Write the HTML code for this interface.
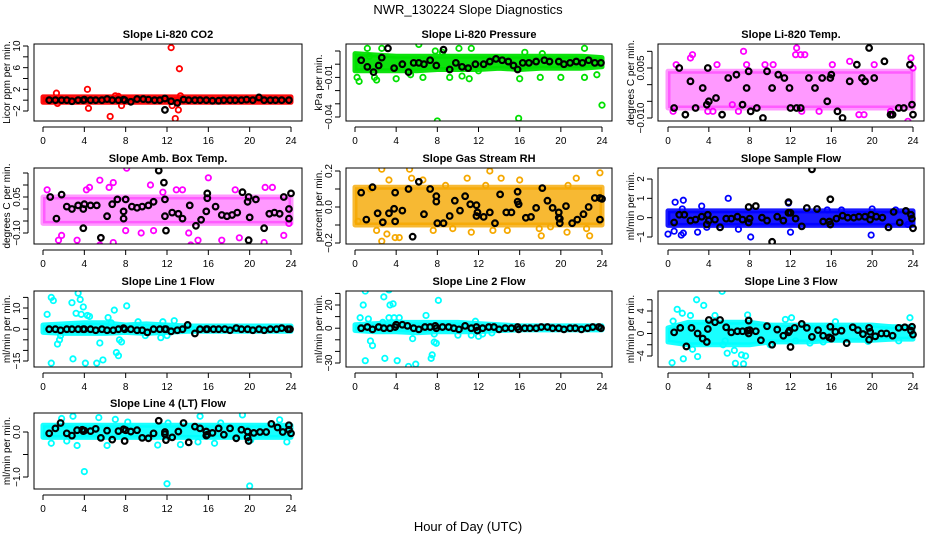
<!DOCTYPE html>
<html><head><meta charset="utf-8"><style>
html,body{margin:0;padding:0;background:#fff;}
svg{display:block;font-family:"Liberation Sans",Arial,sans-serif;}
</style></head><body>
<svg id="chart" width="936" height="540" viewBox="0 0 936 540">
<text x="468" y="14" font-size="13" text-anchor="middle">NWR_130224  Slope Diagnostics</text>
<text x="468" y="531" font-size="13" text-anchor="middle">Hour of Day (UTC)</text>
</svg>
<script>
// ---------- data (hour of day, slope value) ----------
const xTicks = [0,4,8,12,16,20,24];
const bandHours = [0,2,4,6,8,10,12,14,16,18,20,22,24];

const co2BandLo = [-0.4,-0.4,-0.4,-0.4,-0.4,-0.4,-0.4,-0.4,-0.4,-0.4,-0.4,-0.4,-0.4];
const co2BandHi = [0.6,0.6,0.6,0.6,0.6,0.6,0.6,0.6,0.6,0.6,0.6,0.6,0.6];
const co2Color = [[1.3,1.3],[1.4,-0.6],[4.3,2],[4.4,-1.5],[6.5,-3],[7,0.8],[7.6,-1],[12.4,9.7],[13.2,5.8],[12.8,-3.4],[13.1,-1.8],[12.5,-1],[13.3,0.8],[7.3,0.7]];
const co2Black = [[0.6,0],[1.2,0],[1.8,0],[2.3,0],[2.8,-0.2],[3.4,0],[3.9,0],[4,0.1],[4.6,0],[5.1,0],[5.7,0],[6.2,0.2],[6.7,0],[7.3,0],[7.8,0.1],[7.9,0],[8.5,-0.3],[9.1,0.2],[9.7,0.2],[10.2,0.1],[10.8,0],[11.3,0],[11.8,0.3],[11.8,-1.8],[12.4,-0.2],[13,-0.5],[13.6,0.1],[14.1,0],[14.7,0],[15.2,0],[15.8,0],[16.4,-0.1],[17,-0.1],[17.5,0],[18.1,0],[18.6,0],[19.2,0],[19.7,0.1],[20.3,0],[20.9,0.5],[21.4,0],[22,0],[22.5,0],[23.1,0],[23.8,0]];

const presBandLo = [-0.005,-0.005,-0.005,-0.005,-0.004,-0.004,-0.004,-0.003,-0.004,-0.003,-0.003,-0.003,-0.002];
const presBandHi = [0.008,0.007,0.006,0.006,0.006,0.006,0.006,0.006,0.006,0.006,0.006,0.006,0.005];
const presColor = [[0.2,-0.01],[0.4,-0.013],[1.2,0.012],[1.4,0.006],[1.9,-0.01],[2.1,-0.012],[2.6,0.012],[4,-0.011],[5.4,-0.008],[6.2,0.015],[6.6,-0.01],[7.8,0.01],[8,-0.043],[8.5,0.009],[9.2,-0.01],[10.1,0.012],[10.4,-0.009],[11.1,-0.011],[11.3,0.012],[12,-0.005],[15.9,-0.041],[16,-0.011],[16.5,0.009],[18,-0.01],[18.2,0.008],[20,-0.01],[22.3,0.012],[22.3,-0.01],[23.5,-0.008],[24,-0.031]];
const presBlack = [[0.6,0.003],[1.2,-0.002],[1.8,-0.006],[2.3,-0.001],[2.6,0.005],[3.2,0.012],[3.8,-0.003],[4.6,0],[5.2,-0.006],[5.7,0.001],[6.2,0.001],[6.7,0],[7.3,0.003],[7.9,-0.001],[8.6,0.011],[9.2,-0.004],[9.8,0.001],[10.4,-0.002],[11,-0.003],[11.7,0],[12.5,0],[13.1,0.002],[13.7,0.004],[14.3,0.003],[14.9,0.002],[15.4,-0.001],[15.8,-0.004],[16.3,0.001],[16.9,0.001],[17.6,0.002],[18.4,0.003],[18.9,0.002],[19.8,0.002],[20.3,0],[20.9,0.001],[21.5,0.002],[22.1,0.001],[22.7,0.003],[23.3,0.001],[23.9,0.001]];

const ltBandLo = [-0.007,-0.007,-0.007,-0.007,-0.007,-0.007,-0.007,-0.007,-0.007,-0.007,-0.007,-0.007,-0.007];
const ltBandHi = [0.004,0.004,0.004,0.004,0.004,0.004,0.004,0.004,0.004,0.004,0.004,0.004,0.004];
const ltColor = [[0.5,-0.008],[0.8,0.006],[2.2,0.008],[2.4,0.009],[3.9,-0.008],[4.4,-0.008],[4.8,0.006],[6.3,-0.006],[6.9,-0.008],[7.4,0.01],[7.7,0.006],[9.5,0.006],[10.3,0.006],[12.5,0.009],[12.6,0.011],[13,0.009],[13.1,-0.008],[13.4,0.009],[14.8,-0.008],[16.1,0.006],[17.8,0.007],[18.7,-0.009],[19.2,-0.009],[20.2,0.006],[21.8,-0.008],[23.5,-0.011],[23.8,0.008],[24,0.005]];
const ltBlack = [[0.6,-0.007],[1.1,0.005],[1.7,-0.009],[2.2,0.001],[2.7,-0.007],[3.4,-0.001],[3.8,-0.006],[3.9,0.005],[4.0,-0.005],[4.7,-0.004],[5.3,-0.009],[5.9,0.002],[6.7,0.003],[7.3,-0.006],[7.7,-0.001],[7.9,0.004],[8.1,-0.008],[8.7,-0.007],[9.3,-0.01],[9.7,0.004],[10.2,-0.001],[10.8,0.003],[11.4,0.002],[11.9,-0.001],[12,-0.007],[12.6,-0.007],[13,-0.007],[13.8,0.002],[14.4,-0.001],[15.1,0.002],[15.6,-0.005],[15.9,0.002],[16,0.003],[16.6,-0.008],[17.1,-0.01],[17.8,0.001],[18.5,0.006],[19,0.002],[19.3,0.001],[19.7,0.011],[20.2,0.002],[21.2,0.007],[21.8,-0.009],[22,-0.009],[22.6,-0.007],[23.1,-0.007],[23.7,0.006],[23.9,-0.006],[24,-0.009]];

const ambBandLo = [-0.06,-0.06,-0.06,-0.06,-0.06,-0.06,-0.06,-0.06,-0.06,-0.06,-0.06,-0.06,-0.06];
const ambBandHi = [0.05,0.05,0.05,0.05,0.05,0.05,0.05,0.05,0.05,0.05,0.05,0.05,0.05];
const ambColor = [[0.4,0.08],[1.5,-0.13],[1.8,-0.11],[3.3,-0.13],[4.2,0.08],[4.5,0.09],[5.5,0.12],[5.5,-0.15],[5.6,-0.12],[6.4,0.09],[6.8,0.11],[6.8,-0.14],[8.1,0.17],[8,-0.09],[9.5,-0.1],[10.4,0.1],[10.7,-0.09],[11.6,0.07],[12.9,0.08],[13.5,0.08],[14.1,-0.1],[14.3,-0.15],[15,-0.13],[16,0.13],[17.3,-0.13],[18.6,0.08],[19,-0.12],[21.4,-0.14],[21.5,0.09],[22.2,0.09],[23.3,-0.11],[23.8,-0.06]];
const ambBlack = [[0.7,0.05],[1.3,-0.04],[1.8,0.06],[2.3,0.01],[2.8,0],[3.4,0.015],[3.9,-0.08],[3.9,0],[4.0,0.02],[4.6,0.015],[5.2,0.015],[5.6,-0.12],[6.2,-0.03],[6.7,0.02],[7.2,0.04],[7.8,-0.01],[7.8,-0.04],[8,0.04],[8.6,0.01],[9.1,0.005],[9.6,0.01],[10.2,0.015],[10.7,0.03],[11.2,0.16],[11.7,0.11],[11.8,0.04],[11.8,-0.03],[11.9,-0.09],[12.5,-0.015],[13.1,-0.02],[13.5,-0.04],[14.2,0.015],[14.8,-0.07],[15.3,-0.045],[15.8,-0.01],[15.9,0.065],[15.9,0.045],[16.7,0.01],[17.3,-0.025],[17.8,-0.03],[18.3,-0.025],[18.8,-0.015],[19.3,0.07],[19.8,0.03],[19.9,0.05],[19.9,-0.13],[20,-0.035],[20.6,0.04],[21.4,-0.08],[21.9,-0.02],[22.4,-0.015],[22.9,-0.02],[23.3,0.05],[23.8,-0.04],[23.8,0],[24,0.065]];

const rhBandLo = [-0.1,-0.1,-0.1,-0.1,-0.1,-0.1,-0.1,-0.1,-0.1,-0.1,-0.1,-0.1,-0.1];
const rhBandHi = [0.11,0.11,0.11,0.11,0.11,0.11,0.11,0.11,0.11,0.11,0.11,0.11,0.11];
const rhColor = [[0.3,-0.08],[1.5,0.1],[2.1,-0.13],[2.6,0.21],[2.6,-0.19],[3.1,-0.15],[3.3,0.15],[3.9,-0.17],[4.3,-0.17],[5.3,0.21],[5.5,0.16],[6.6,0.15],[7.6,-0.13],[8.8,0.12],[9.5,-0.12],[10.9,0.16],[11.3,-0.14],[12.7,0.12],[13.1,0.2],[13.4,-0.13],[14.2,0.16],[14.8,-0.13],[16,0.15],[17.9,-0.12],[18.1,-0.16],[19,-0.11],[20.6,-0.14],[20.7,0.12],[21.5,0.16],[22.5,-0.12],[22.8,-0.16],[23.8,0.19],[23.9,-0.07]];
const rhBlack = [[0.6,0.08],[1.1,-0.07],[1.7,0.11],[2.2,-0.035],[2.7,-0.085],[3.3,-0.035],[3.8,-0.01],[3.9,0.08],[3.9,-0.08],[4.6,-0.02],[5.2,0.1],[5.6,-0.165],[6.2,0.14],[6.7,-0.04],[7.3,0.1],[7.9,0.06],[7.9,0.03],[8,-0.09],[8.6,-0.09],[9.2,-0.05],[9.7,0.035],[10.2,-0.02],[10.7,0.06],[11.2,0.015],[11.8,0.01],[11.8,-0.05],[11.9,-0.03],[12.5,-0.055],[13.1,-0.03],[13.6,-0.09],[14.1,0.07],[14.7,-0.03],[15.2,-0.03],[15.8,0.085],[15.8,0.03],[15.9,0.015],[16.6,-0.06],[17.1,-0.055],[17.6,-0.005],[18.2,0.105],[18.7,0.035],[19.2,-0.005],[19.8,-0.03],[19.8,-0.06],[19.9,-0.09],[19.9,-0.065],[20.5,0.005],[21.1,-0.09],[21.6,-0.07],[22.2,-0.04],[22.7,0],[23.3,0.05],[23.8,0.05],[23.8,-0.07],[24,0.045]];

const sfBandLo = [-0.4,-0.4,-0.4,-0.4,-0.4,-0.4,-0.4,-0.4,-0.4,-0.4,-0.4,-0.4,-0.4];
const sfBandHi = [0.35,0.35,0.35,0.35,0.35,0.35,0.35,0.35,0.35,0.35,0.35,0.35,0.35];
const sfColor = [[0,-0.85],[0.6,-0.7],[0.7,0.8],[1.3,-0.9],[1.4,0.45],[1.5,0.9],[1.5,-0.8],[2.9,-0.75],[3.3,0.6],[3.8,-0.5],[5.9,1],[6.9,-0.6],[8.1,-1],[11.8,0.75],[12,-0.75],[15.6,0.4],[17,0.4],[19.9,-0.9],[20,0.45],[22.3,0.4],[23.5,-0.35]];
const sfBlack = [[0.6,-0.25],[1.1,0.15],[1.6,0.15],[2.2,-0.15],[2.7,-0.1],[3.3,0.05],[3.8,-0.35],[3.9,0.15],[4.0,-0.15],[4.6,-0.1],[5.1,-0.5],[5.7,-0.05],[6.2,-0.05],[6.8,0.05],[7.3,-0.1],[7.9,0.55],[7.9,-0.25],[8,-0.05],[8.6,0.6],[9.2,0],[9.7,-0.15],[10.2,-1.25],[10.7,0.05],[11.3,-0.15],[11.8,0.25],[11.8,0.8],[12,0.25],[12.5,-0.05],[13.1,-0.45],[13.6,0.5],[14.1,2.5],[14.6,0.45],[15.2,-0.2],[15.8,-0.2],[15.9,0.95],[15.9,-0.35],[16.5,-0.05],[17.1,0.1],[17.6,0],[18.2,0],[18.7,0.05],[19.3,0.05],[19.8,-0.1],[19.9,0.15],[20.4,0.05],[21,0],[21.6,-0.5],[22.1,0.3],[22.7,-0.25],[23.3,0.35],[23.8,0.15],[23.9,-0.05],[24,-0.55]];

const l1BandLo = [-1.5,-2,-2,-2,-1.5,-2,-1.5,-1,-1,-1,-1,-1,-1];
const l1BandHi = [2,2.5,3,3,2,2.5,2,1.5,1.5,1.5,1.5,1.5,1.5];
const l1Color = [[0.4,7],[0.8,15],[1,13.5],[0.8,-16],[1.4,-7],[1.6,-5],[1.7,-3],[2.8,12.5],[2.9,-14],[3.2,7.5],[3.4,17],[3.6,14],[3.7,7],[3.9,10.5],[4.1,-16],[4.3,6.5],[4.5,6],[5.2,-16],[5.5,-6.5],[5.8,-14.5],[6.3,5.5],[6.6,3],[6.9,9],[7.1,-11],[7.3,-12.5],[7.4,-5],[7.6,-6],[8.1,11],[9.2,3.5],[9.9,-3],[11.4,-4],[11.6,3.5],[12.7,4],[12,-3]];
const l1Black = [[0.6,0],[1.2,0],[1.7,-0.5],[2.3,0],[2.8,0],[3.4,0],[3.9,0],[4,0],[4.6,0],[5.1,-0.5],[5.7,0],[6.2,-0.5],[6.8,-0.5],[7.3,0],[7.8,0.5],[7.9,0],[8.5,0],[9.1,-0.5],[9.6,-0.5],[10.1,-1.5],[10.7,0],[11.3,0],[11.8,0],[11.9,0],[12.4,-1],[13,-0.5],[13.5,0],[14,2],[14.7,-2],[15.2,0],[15.8,0],[15.9,0],[16.5,0],[17,0],[17.6,0],[18.1,-0.5],[18.7,0.5],[19.2,0],[19.8,0],[20.3,-0.5],[20.9,0],[21.4,-0.5],[22,0],[22.6,0],[23.1,0.5],[23.7,0],[23.9,0]];

const l2BandLo = [-2,-3,-3,-4,-3,-3,-3,-2,-1.5,-1.5,-1.5,-1.5,-1.5];
const l2BandHi = [3,4,5,5,5,5,4,3,2,2,2,2,2];
const l2Color = [[0.5,9],[0.8,20],[1,-28],[1,32],[1.3,8],[1.5,-11],[1.7,-15],[2.7,5],[2.8,27],[2.9,-26],[3.3,9],[3.3,33],[3.4,20],[3.7,21],[3.8,9],[4.1,-28],[4.3,9],[5.2,-33],[5.6,-9],[5.9,-31],[6.9,11],[7.4,-26],[7.5,-23],[7.7,-12],[7.9,-13],[8.1,24],[7.7,-5],[10,-6],[11.3,-6],[11.7,6],[12,-7],[12.4,-5],[13.3,-4]];
const l2Black = [[0.6,0],[1.2,1],[1.7,-1],[2.3,1],[2.8,0],[3.4,0],[3.9,1],[4,3],[4.6,3],[5.1,2],[5.7,0],[6.2,-1],[6.8,1],[7.3,1],[7.8,2],[7.9,0],[8.5,1],[9.1,1],[9.6,0],[10.1,-1],[10.7,2],[11.3,0],[11.8,1],[11.9,-2],[12.4,0],[13,1],[13.5,1],[14,-1],[14.6,0],[15.2,0],[15.8,1],[15.9,-1],[16.5,0],[17,0],[17.6,0],[18.1,1],[18.7,1],[19.2,0],[19.8,0],[20.3,-1],[20.9,0],[21.4,0],[22,-1],[22.6,0],[23.1,1],[23.7,1],[23.9,0]];

const l3BandLo = [-1.5,-2,-2,-2,-2,-1.5,-1.5,-1.5,-1.2,-1.2,-1.2,-1,-1];
const l3BandHi = [1,2,2,2,2,1.5,1.5,1.5,1.5,1.5,1.5,1.2,1.2];
const l3Color = [[0.4,-5.2],[0.5,2.2],[0.9,4.3],[1.4,3.6],[1.5,-4.5],[2.2,3.2],[2.4,-2.8],[2.8,6],[2.9,-4.1],[3.5,5],[3.8,-1.2],[4.6,3.2],[5.3,7.5],[5.4,-2],[5.6,-1.3],[5.8,-3.5],[6.5,-3],[6.6,-5.3],[7.2,-3.8],[7.4,-5.4],[7.6,-4],[7.8,3.3],[10,-2],[11.5,2.5],[12.1,2.8],[12.5,-1.3],[13.9,-1.7],[15.2,-1.5],[16.4,2.1],[19.6,-1.4],[22.6,-1.3],[23.7,2.8]];
const l3Black = [[0.6,0.2],[1.2,1],[1.8,-2.3],[2.3,1],[2.9,0],[3.4,-0.9],[3.8,-1.5],[3.9,0.8],[4,2.4],[4.6,2],[5.1,2.4],[5.7,1.1],[6.2,0.2],[6.8,0.4],[7.3,0.4],[7.8,0.5],[7.9,2.3],[7.9,0],[8,0.6],[8.6,0.4],[9.1,-1.2],[9.7,1.3],[10.2,-2],[10.7,0.7],[11.3,-0.4],[11.8,0.2],[11.9,0.5],[12,-2.4],[12.4,1],[13.1,1.7],[13.6,1],[14.1,-0.6],[14.7,0.6],[15.2,-0.4],[15.8,-0.7],[15.9,1.2],[16,-0.9],[16.4,0.3],[17,0.5],[17.5,-1.7],[18.1,1.1],[18.6,0.6],[19.1,-0.1],[19.7,1],[19.7,-1.1],[19.8,0.3],[20.3,-0.5],[20.9,0],[21.4,0],[22,-0.4],[22.6,1],[23.2,1.1],[23.8,0.5],[23.9,1.2],[24,-0.2]];

const l4BandLo = [-0.12,-0.12,-0.12,-0.12,-0.12,-0.12,-0.12,-0.12,-0.12,-0.12,-0.12,-0.12,-0.12];
const l4BandHi = [0.15,0.15,0.15,0.15,0.15,0.15,0.15,0.15,0.15,0.15,0.15,0.15,0.15];
const l4Color = [[0.8,-0.25],[1.8,0.3],[2.3,-0.2],[2.9,0.35],[3.3,-0.3],[4,-0.88],[5.4,0.32],[6.2,-0.3],[7,0.28],[8.2,0.22],[11.1,-0.29],[12,-1.15],[12.1,0.2],[13.3,-0.28],[15,-0.22],[15.2,0.35],[16.6,-0.25],[17.2,0.2],[19.3,0.38],[20,-1.2],[20.1,-0.18],[22.9,0.27],[23.6,-0.22]];
const l4Black = [[0.6,-0.03],[1.2,0.08],[1.7,0.2],[2.3,-0.03],[2.8,-0.08],[3.3,0.04],[3.8,0.05],[3.9,0.02],[4.0,0.03],[4.6,0.02],[5.1,0.07],[5.6,-0.13],[6.2,0.03],[6.7,-0.17],[7.3,0.02],[7.8,0.06],[7.9,-0.2],[8,0.04],[8.5,0.01],[9.1,0.04],[9.6,-0.13],[10.2,-0.14],[10.7,-0.03],[11.2,0.25],[11.8,0],[11.8,-0.05],[11.9,-0.18],[12.5,-0.12],[13.1,0.01],[13.6,0.2],[14.1,-0.23],[14.7,0.12],[15.2,0.08],[15.8,0.01],[15.8,-0.08],[15.9,-0.06],[16.4,-0.02],[17,0.08],[17.5,-0.06],[18.1,0.08],[18.7,-0.14],[19.2,0.05],[19.8,0.01],[19.8,-0.12],[19.9,-0.2],[20.4,-0.02],[21,0],[21.6,0],[22.1,0.18],[22.7,0.1],[23.2,0],[23.8,0.15],[23.8,0.05],[24,-0.03]];

// y tick values and printed labels
const co2Ticks=[-2,0,2,4,6,8,10], co2Labels=[-2,2,6,10];
const presTicks=[0.01,0,-0.01,-0.02,-0.03,-0.04], presLabels=[-0.01,-0.04];
const ltTicks=[0.01,0.005,0,-0.005,-0.01], ltLabels=[0.005,-0.01];
const ambTicks=[0.15,0.1,0.05,0,-0.05,-0.1], ambLabels=[0.05,-0.1];
const rhTicks=[0.2,0.1,0,-0.1,-0.2], rhLabels=[0.2,0,-0.2];
const sfTicks=[2,1,0,-1], sfLabels=[2,1,0,-1];
const l1Ticks=[15,10,5,0,-5,-10,-15], l1Labels=[10,0,-15];
const l2Ticks=[30,20,10,0,-10,-20,-30], l2Labels=[20,0,-30];
const l3Ticks=[6,4,2,0,-2,-4], l3Labels=[4,0,-4];
const l4Ticks=[0,-0.5,-1], l4Labels=[0,-1];

// ---------- layout ----------
const cols=[{bl:34,br:302,x0:43,x24:291},{bl:346,br:612,x0:355,x24:602},{bl:658,br:924,x0:668,x24:913}];
const rows=[{bt:44,bb:121},{bt:168,bb:244},{bt:291,bb:367},{bt:413,bb:489}];
const panels=[
 {id:'co2',title:'Slope Li-820 CO2',ylab:'Licor ppm per min.',c:0,r:0,v1:10,p1:46,v2:-2,p2:111,col:'#ff0000',op:0.95,lo:co2BandLo,hi:co2BandHi,pts:co2Color,blk:co2Black,ticks:co2Ticks,labels:co2Labels,dec:0},
 {id:'pressure',title:'Slope Li-820 Pressure',ylab:'kPa per min.',c:1,r:0,v1:0.01,p1:51,v2:-0.04,p2:117,col:'#00e000',op:0.95,lo:presBandLo,hi:presBandHi,pts:presColor,blk:presBlack,ticks:presTicks,labels:presLabels,dec:2},
 {id:'li-temp',title:'Slope Li-820 Temp.',ylab:'degrees C per min.',c:2,r:0,v1:0.005,p1:68,v2:-0.01,p2:118,col:'#ff00ff',op:0.4,lo:ltBandLo,hi:ltBandHi,pts:ltColor,blk:ltBlack,ticks:ltTicks,labels:ltLabels,dec:3},
 {id:'amb-temp',title:'Slope Amb. Box Temp.',ylab:'degrees C per min.',c:0,r:1,v1:0.05,p1:197,v2:-0.1,p2:233,col:'#ff00ff',op:0.4,lo:ambBandLo,hi:ambBandHi,pts:ambColor,blk:ambBlack,ticks:ambTicks,labels:ambLabels,dec:2},
 {id:'rh',title:'Slope Gas Stream RH',ylab:'percent per min.',c:1,r:1,v1:0.2,p1:171,v2:-0.2,p2:243,col:'#f5a800',op:0.8,lo:rhBandLo,hi:rhBandHi,pts:rhColor,blk:rhBlack,ticks:rhTicks,labels:rhLabels,dec:1},
 {id:'sample-flow',title:'Slope Sample Flow',ylab:'ml/min per min.',c:2,r:1,v1:2,p1:179,v2:-1,p2:237,col:'#0000ff',op:0.9,lo:sfBandLo,hi:sfBandHi,pts:sfColor,blk:sfBlack,ticks:sfTicks,labels:sfLabels,dec:0},
 {id:'line1',title:'Slope Line 1 Flow',ylab:'ml/min per min.',c:0,r:2,v1:10,p1:308,v2:-15,p2:361,col:'#00ffff',op:0.9,lo:l1BandLo,hi:l1BandHi,pts:l1Color,blk:l1Black,ticks:l1Ticks,labels:l1Labels,dec:0},
 {id:'line2',title:'Slope Line 2 Flow',ylab:'ml/min per min.',c:1,r:2,v1:20,p1:305,v2:-30,p2:363,col:'#00ffff',op:0.9,lo:l2BandLo,hi:l2BandHi,pts:l2Color,blk:l2Black,ticks:l2Ticks,labels:l2Labels,dec:0},
 {id:'line3',title:'Slope Line 3 Flow',ylab:'ml/min per min.',c:2,r:2,v1:4,p1:311,v2:-4,p2:356,col:'#00ffff',op:0.9,lo:l3BandLo,hi:l3BandHi,pts:l3Color,blk:l3Black,ticks:l3Ticks,labels:l3Labels,dec:0},
 {id:'line4',title:'Slope Line 4 (LT) Flow',ylab:'ml/min per min.',c:0,r:3,v1:0,p1:432,v2:-1,p2:477,col:'#00ffff',op:0.9,lo:l4BandLo,hi:l4BandHi,pts:l4Color,blk:l4Black,ticks:l4Ticks,labels:l4Labels,dec:1}
];

const NS='http://www.w3.org/2000/svg';
const svg=document.getElementById('chart');
function mk(tag,attrs,parent){const e=document.createElementNS(NS,tag);for(const k in attrs)e.setAttribute(k,attrs[k]);parent.appendChild(e);return e;}
function fmt(v,d){let s=v.toFixed(d);if(v<0)s='\u2212'+s.slice(1);if(Number(s.replace('\u2212','-'))===0)s=(0).toFixed(d);return s;}

panels.forEach(p=>{
  const C=cols[p.c],R=rows[p.r];
  const xs=h=>C.x0+(C.x24-C.x0)*h/24;
  const ys=v=>p.p1+(p.p2-p.p1)*(v-p.v1)/(p.v2-p.v1);
  const g=mk('g',{},svg);
  
  
  const cid='clip-'+p.id;
  const cp=mk('clipPath',{id:cid},g);
  mk('rect',{x:C.bl,y:R.bt,width:C.br-C.bl,height:R.bb-R.bt},cp);
  const plot=mk('g',{'clip-path':'url(#'+cid+')'},g);
  
  
  let d='';
  bandHours.forEach((h,i)=>{d+=(i?'L':'M')+xs(h).toFixed(1)+','+ys(p.hi[i]).toFixed(1);});
  for(let i=bandHours.length-1;i>=0;i--)d+='L'+xs(bandHours[i]).toFixed(1)+','+ys(p.lo[i]).toFixed(1);
  const band=mk('path',{d:d+'Z',fill:p.col,stroke:p.col,'stroke-width':5,'stroke-linejoin':'round','fill-opacity':p.op,'stroke-opacity':p.op},plot);
  
  
  p.pts.forEach(pt=>{
    const c=mk('circle',{cx:xs(pt[0]),cy:ys(pt[1]),r:2.7,fill:'none',stroke:p.col,'stroke-width':1.8},plot);
    
    
  });
  p.blk.forEach(pt=>{
    const c=mk('circle',{cx:xs(pt[0]),cy:ys(pt[1]),r:2.8,fill:'none',stroke:'#000','stroke-width':2.2},plot);
    
    
  });
  const box=mk('rect',{x:C.bl,y:R.bt,width:C.br-C.bl,height:R.bb-R.bt,fill:'none',stroke:'#000','stroke-width':1},g);
  
  
  const t=mk('text',{x:(C.bl+C.br)/2,y:R.bt-6,'font-size':11,'font-weight':'bold','text-anchor':'middle'},g);
  t.textContent=p.title;
  
  
  const xa=mk('g',{},g);
  
  
  const yb=R.bb+6;
  mk('line',{x1:xs(0),x2:xs(24),y1:yb,y2:yb,stroke:'#000'},xa);
  xTicks.forEach(h=>{
    mk('line',{x1:xs(h),x2:xs(h),y1:yb,y2:yb+5,stroke:'#000'},xa);
    const l=mk('text',{x:xs(h),y:yb+17,'font-size':10,'text-anchor':'middle'},xa);
    l.textContent=h;
    
    
  });
  const ya=mk('g',{},g);
  
  
  const xl=C.bl-6;
  const tv=p.ticks.map(ys);
  mk('line',{x1:xl,x2:xl,y1:Math.min(...tv),y2:Math.max(...tv),stroke:'#000'},ya);
  p.ticks.forEach(v=>{mk('line',{x1:xl-5,x2:xl,y1:ys(v),y2:ys(v),stroke:'#000'},ya);});
  p.labels.forEach(v=>{
    const yy=ys(v);
    const l=mk('text',{x:xl-8,y:yy,'font-size':10,'text-anchor':'middle',transform:'rotate(-90 '+(xl-8)+' '+yy+')'},ya);
    l.textContent=fmt(v,p.dec);
    
    
  });
  const yc=(R.bt+R.bb)/2, yx=C.bl-24;
  const yl=mk('text',{x:yx,y:yc,'font-size':10,'text-anchor':'middle',transform:'rotate(-90 '+yx+' '+yc+')'},g);
  yl.textContent=p.ylab;
  
  
});
</script>
</body></html>
